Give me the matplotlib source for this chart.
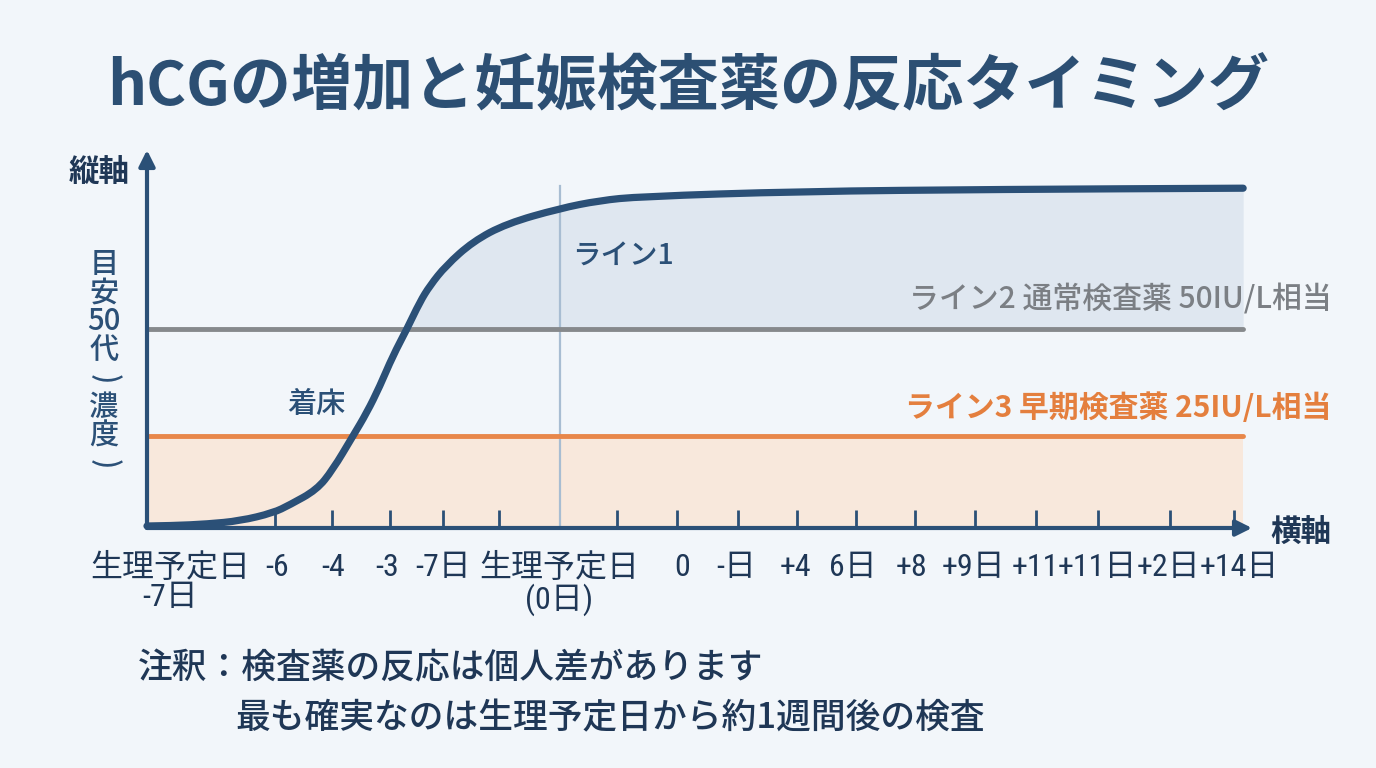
import matplotlib
matplotlib.use("Agg")
import matplotlib.pyplot as plt
from matplotlib.path import Path
from matplotlib.patches import PathPatch
from matplotlib import font_manager

plt.rcParams['font.family'] = ['Noto Sans CJK JP', 'DejaVu Sans']

# ---- data ----
curve_day = [-7.0, -6.56, -5.98, -5.42, -4.86, -4.58, -4.12, -3.85, -3.51, -3.27,
             -3.05, -2.83, -2.59, -2.37, -2.20, -1.93, -1.47, -0.90, 0.0, 0.68,
             1.36, 4.07, 7.46, 11.6]
curve_level = [0.5, 0.6, 1.0, 1.8, 3.8, 5.8, 9.6, 14.6, 23.0, 29.0,
               35.6, 43.2, 50.0, 56.8, 60.9, 65.9, 72.0, 76.5, 80.3, 82.3,
               83.3, 84.6, 85.1, 85.4]
normal_test_level = 50   # ライン2
early_test_level = 23    # ライン3
period_day = 0.0

tick_days = [-4.83, -3.86, -2.88, -1.97, -1.02, 0.98, 2.0, 3.02, 4.03, 5.03,
             6.03, 7.05, 8.08, 9.14, 10.36, 11.44]
label_days = [-6.6, -4.8, -3.84, -2.93, -1.97, 0.0, 2.08, 3.0, 4.0, 4.98,
              5.97, 7.03, 8.07, 9.12, 10.33, 11.53]
label_text = ['生理予定日\n-7日', '-6', '-4', '-3', '-7日', '生理予定日\n(0日)', '0', '-日',
              '+4', '6日', '+8', '+9日', '+11', '+11日', '+2日', '+14日']

title = 'hCGの増加と妊娠検査薬の反応タイミング'
ylabel_chars = ['目', '安', '50', '代', ')', '濃', '度', ')']
note_line1 = '注釈：検査薬の反応は個人差があります'
note_line2 = '最も確実なのは生理予定日から約1週間後の検査'

# ---- style ----
navy = '#2b5077'
text_navy = '#1f3756'
gray = '#86898c'
orange = '#e8874a'
bg = '#f2f6fa'

installed = {f.name for f in font_manager.fontManager.ttflist}
narrow = [n for n in ['Liberation Sans Narrow', 'Roboto Condensed'] if n in installed]
tick_family = narrow[:1] + ['Noto Sans CJK JP', 'DejaVu Sans']

W, H = 1376, 768
fig = plt.figure(figsize=(W / 100, H / 100), dpi=100, facecolor=bg)
ax = fig.add_axes([147 / W, 1 - 528 / H, (1252 - 147) / W, (528 - 150) / H])
ax.set_xlim(-7, 11.75)
ax.set_ylim(0, 95)
ax.patch.set_alpha(0)
for s in ax.spines.values():
    s.set_visible(False)

x_end = curve_day[-1]

# fills
ax.fill_between([-7, x_end], 0, early_test_level, color='#f8e8dc', lw=0, zorder=1)
ax.fill_between(curve_day, normal_test_level, curve_level,
                where=[v >= normal_test_level for v in curve_level],
                interpolate=True, color='#dfe7f0', lw=0, zorder=1)

# vertical line at period day
ax.plot([period_day, period_day], [0, 86], color='#a8bdd2', lw=1.6, zorder=2)

# threshold lines
ax.plot([-7, x_end], [normal_test_level] * 2, color=gray, lw=3.5,
        solid_capstyle='round', zorder=3)
ax.plot([-7, x_end], [early_test_level] * 2, color=orange, lw=3.5,
        solid_capstyle='round', zorder=3)

# hCG curve, drawn as a smooth quadratic-Bezier path through the read points
pts = list(zip(curve_day, curve_level))
verts = [pts[0]]
codes = [Path.MOVETO]
for i in range(1, len(pts) - 1):
    mid = ((pts[i][0] + pts[i + 1][0]) / 2, (pts[i][1] + pts[i + 1][1]) / 2)
    verts += [pts[i], mid]
    codes += [Path.CURVE3, Path.CURVE3]
verts.append(pts[-1])
codes.append(Path.LINETO)
curve = PathPatch(Path(verts, codes), facecolor='none', edgecolor=navy, lw=5.2,
                  capstyle='round', joinstyle='round', zorder=5, clip_on=False)
ax.add_patch(curve)

# axes arrows
ax.annotate('', xy=(0, 1.0), xytext=(0, 0), xycoords='axes fraction',
            arrowprops=dict(arrowstyle='-|>', lw=3, color=navy, mutation_scale=24,
                            shrinkA=0, shrinkB=0), zorder=6)
ax.annotate('', xy=(1.0, 0), xytext=(0, 0), xycoords='axes fraction',
            arrowprops=dict(arrowstyle='-|>', lw=3, color=navy, mutation_scale=24,
                            shrinkA=0, shrinkB=0), zorder=6)

# ticks
ax.xaxis.remove_overlapping_locs = False
ax.set_yticks([])
ax.set_xticks(tick_days, labels=[''] * len(tick_days))
ax.set_xticks(label_days, labels=label_text, minor=True)
ax.tick_params(axis='x', which='major', direction='in', length=13, width=2,
               color=navy)
ax.tick_params(axis='x', which='minor', length=0, pad=18, labelsize=23,
               labelcolor=text_navy)
for t in ax.get_xticklabels(minor=True):
    t.set_linespacing(1.0)
    t.set_multialignment('center')
    t.set_fontfamily(tick_family)

# in-plot labels
ax.text(-4.13, 31, '着床', fontsize=21, color=navy, ha='center', va='center',
        fontweight='medium', zorder=7)
ax.text(0.22, 68.6, 'ライン1', fontsize=20.5, color=navy, ha='left', va='center',
        fontweight='medium', zorder=7)
ax.text(13.1, 57.3, 'ライン2 通常検査薬 50IU/L相当', fontsize=21.5, color='#7b7f84',
        ha='right', va='center', fontweight='medium', zorder=7, clip_on=False)
ax.text(13.1, 30.2, 'ライン3 早期検査薬 25IU/L相当', fontsize=21.5, color='#e47f3e',
        ha='right', va='center', fontweight='bold', zorder=7, clip_on=False)

# title
fig.text(0.5, 1 - 88 / H, title, fontsize=44, fontweight='bold', color='#2c4f73',
         ha='center', va='center')

# axis names
fig.text(99 / W, 1 - 172 / H, '縦軸', fontsize=22, fontweight='bold', color=text_navy,
         ha='center', va='center')
fig.text(1301 / W, 1 - 533 / H, '横軸', fontsize=22, fontweight='bold', color=text_navy,
         ha='center', va='center')

# vertical y label, one glyph per row (brackets turned for vertical writing)
for i, ch in enumerate(ylabel_chars):
    rot = -90 if ch == ')' else 0
    fig.text(104 / W, 1 - (265 + i * 28.5) / H, ch, fontsize=21, color=navy,
             ha='center', va='center', rotation=rot, fontweight='medium')

# note
fig.text(138 / W, 1 - 668 / H, note_line1, fontsize=25, color=text_navy,
         ha='left', va='center', fontweight='medium')
fig.text(235 / W, 1 - 718 / H, note_line2, fontsize=25, color=text_navy,
         ha='left', va='center', fontweight='medium')

fig.savefig('out.png', dpi=100, facecolor=bg)
